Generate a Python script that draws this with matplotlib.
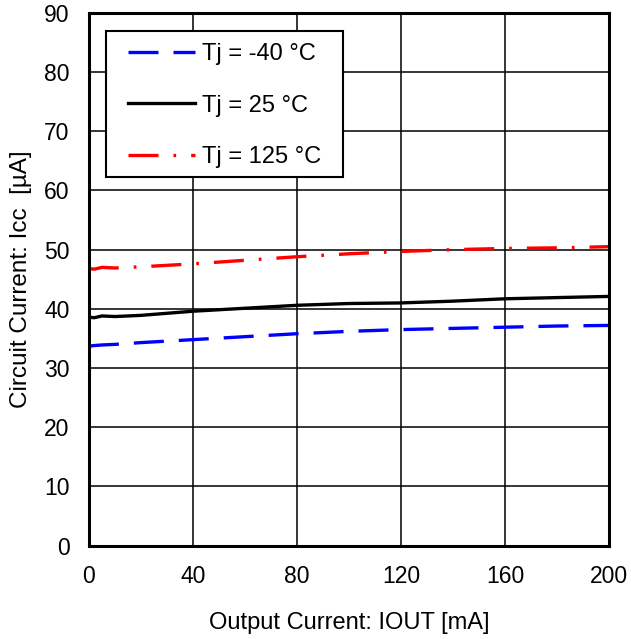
import numpy as np
import matplotlib.pyplot as plt
from matplotlib.patches import Rectangle

plt.rcParams['font.family'] = ['Liberation Sans', 'DejaVu Sans']

iout = [0, 2, 5, 10, 20, 40, 60, 80, 100, 120, 140, 160, 180, 200]
icc_m40 = [33.7, 33.8, 33.9, 34.0, 34.3, 34.8, 35.3, 35.8, 36.2, 36.5, 36.7, 36.9, 37.1, 37.2]
icc_25 = [38.6, 38.5, 38.8, 38.7, 38.9, 39.6, 40.1, 40.6, 40.9, 41.0, 41.3, 41.7, 41.9, 42.1]
icc_125 = [46.8, 46.7, 47.0, 46.9, 47.1, 47.6, 48.2, 48.8, 49.3, 49.7, 50.0, 50.2, 50.3, 50.5]

fig = plt.figure(figsize=(6.31, 6.39), dpi=100)
ax = fig.add_axes([0.141, 0.146, 0.824, 0.834])

ax.plot(iout, icc_m40, color='blue', lw=2.4, dashes=(9, 4.5), label='Tj = -40 °C')
ax.plot(iout, icc_25, color='black', lw=2.4, label='Tj = 25 °C')
ax.plot(iout, icc_125, color='red', lw=2.4, dashes=(9, 4.5, 0.8, 4.5), label='Tj = 125 °C')

ax.set_xlim(0, 200)
ax.set_ylim(0, 90)
ax.set_xticks(np.arange(0, 201, 40))
ax.set_yticks(np.arange(0, 91, 10))
ax.grid(True, color='black', lw=1.1)
ax.tick_params(direction='in', labelsize=16.5, length=0, pad=14)
for s in ax.spines.values():
    s.set_linewidth(2.2)

ax.set_xlabel('Output Current: IOUT [mA]', fontsize=17, labelpad=17)
ax.set_ylabel('Circuit Current: Icc  [µA]', fontsize=17.5, labelpad=9)

# legend box (wider horizontal padding than matplotlib's frame allows)
box = Rectangle((0.0327, 0.692), 0.456, 0.274, transform=ax.transAxes,
                facecolor='white', edgecolor='black', lw=1.5, zorder=4.5)
ax.add_patch(box)
leg = ax.legend(loc='upper left', bbox_to_anchor=(0.075, 0.943), fontsize=17,
                frameon=False, borderpad=0, borderaxespad=0,
                handlelength=2.85, labelspacing=1.25, handletextpad=0.3)

fig.savefig('out.png', dpi=100)
